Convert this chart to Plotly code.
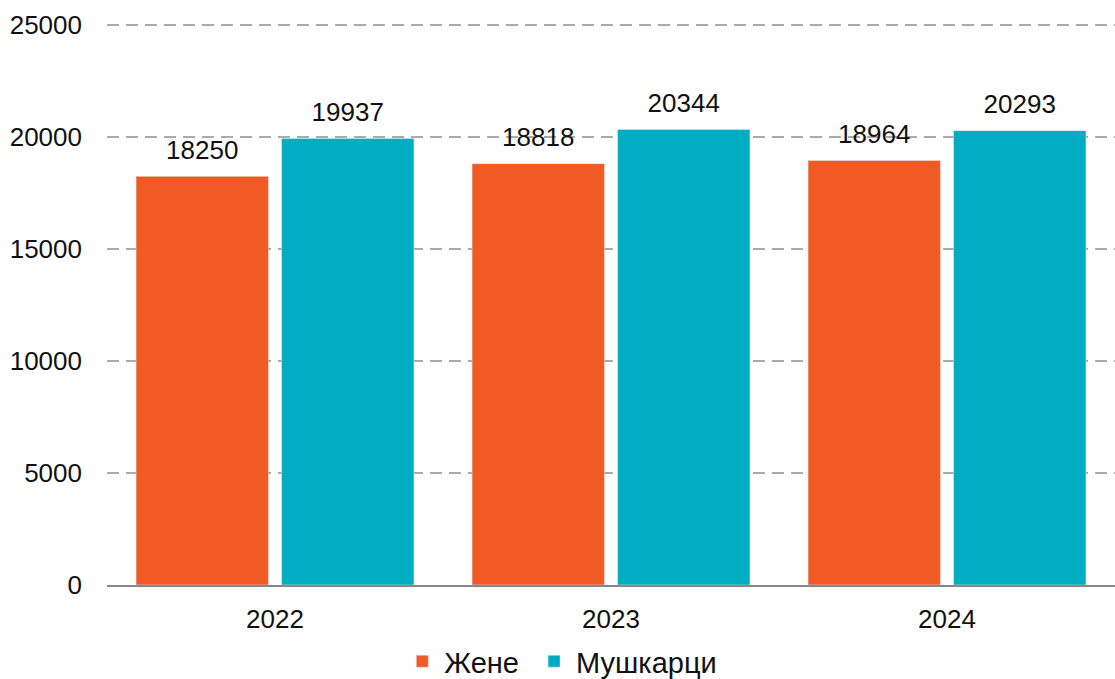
import plotly.graph_objects as go

years = ["2022", "2023", "2024"]
women = [18250, 18818, 18964]
men = [19937, 20344, 20293]
series_names = ["Жене", "Мушкарци"]
series_colors = ["#F15A24", "#00ACC1"]
y_ticks = [0, 5000, 10000, 15000, 20000, 25000]
y_tick_labels = ["0", "5000", "10000", "15000", "20000", "25000"]

font_family = "Liberation Sans, Arial, sans-serif"

fig = go.Figure()
for name, vals, col in zip(series_names, [women, men], series_colors):
    fig.add_trace(go.Bar(x=years, y=vals, name=name + "\u00a0", marker_color=col,
                         offsetgroup=name, hoverinfo="x+y+name"))
for name, vals in zip(series_names, [women, men]):
    fig.add_trace(go.Scatter(x=years, y=vals, mode="markers+text", offsetgroup=name,
                             text=[str(v) for v in vals], textposition="top center",
                             textfont=dict(size=26, color="#111111"),
                             marker=dict(size=16, color="rgba(0,0,0,0)"),
                             showlegend=False, hoverinfo="skip", cliponaxis=False))

fig.update_layout(
    width=1115, height=679,
    margin=dict(l=107, r=0, t=23, b=94),
    paper_bgcolor="white", plot_bgcolor="white",
    font=dict(family=font_family, size=26, color="#111111"),
    barmode="group", bargap=0.134, bargroupgap=0.09,
    scattermode="group", scattergap=0.134,
    showlegend=True,
    legend=dict(orientation="h", xref="container", x=0.507, xanchor="center",
                yref="container", y=0.026, yanchor="middle",
                font=dict(size=29), itemwidth=34),
)
fig.update_yaxes(range=[0, 25100], tickvals=y_ticks, ticktext=y_tick_labels,
                 showgrid=True, gridcolor="#aaaaaa", gridwidth=2, griddash="12px,7px",
                 zeroline=False, showline=False, ticks="", ticklabelstandoff=24,
                 tickfont=dict(size=26))
fig.update_xaxes(showline=True, linecolor="#888888", linewidth=2, ticks="",
                 ticklabelstandoff=10, tickfont=dict(size=26))

fig.write_html("out.html", config={"displayModeBar": False},
               post_script="document.body.style.margin='0';document.body.style.padding='0';")
